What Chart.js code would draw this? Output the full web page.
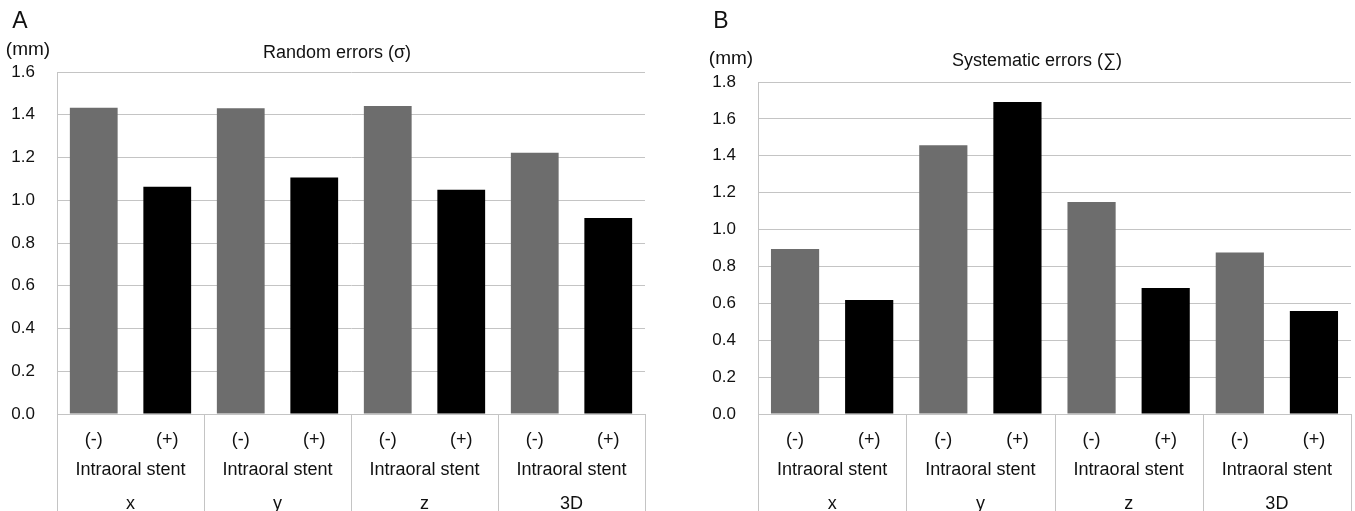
<!DOCTYPE html>
<html>
<head>
<meta charset="utf-8">
<script src="https://cdn.jsdelivr.net/npm/chart.js@4.4.1/dist/chart.umd.min.js"></script>
<style>
  html, body { margin: 0; padding: 0; background: #fff; }
  #wrapA { position: absolute; left: 0; top: 0; width: 677px; height: 511px; }
  #wrapB { position: absolute; left: 677px; top: 0; width: 678px; height: 511px; }
</style>
</head>
<body>
<div id="wrapA"><canvas id="chartA"></canvas></div>
<div id="wrapB"><canvas id="chartB"></canvas></div>
<script>
// data
const subLabels = ['(-)', '(+)', '(-)', '(+)', '(-)', '(+)', '(-)', '(+)'];
const groupLabels = ['x', 'y', 'z', '3D'];
const stentLabel = 'Intraoral stent';
const randomErrors = [1.433, 1.063, 1.430, 1.107, 1.441, 1.049, 1.222, 0.917];
const systematicErrors = [0.894, 0.618, 1.457, 1.692, 1.150, 0.683, 0.876, 0.559];
const randomMax = 1.6;
const systematicMax = 1.8;

const FONT = "'Liberation Sans', Arial, sans-serif";
const GRID = '#c4c4c4';
const barColors = subLabels.map(l => l === '(-)' ? '#6d6d6d' : '#000000');

// panel letter, unit and title text + group separators below the axis
const panelDecor = {
    id: 'panelDecor',
    afterDraw(chart, args, opts) {
        const ctx = chart.ctx;
        const area = chart.chartArea;
        const xs = chart.scales.x;
        ctx.save();
        // vertical lines between the groups, down to the bottom edge
        ctx.strokeStyle = GRID;
        ctx.lineWidth = 1;
        const edges = [area.left];
        for (let i = 1; i < subLabels.length / 2; i++) {
            edges.push((xs.getPixelForTick(i * 2 - 1) + xs.getPixelForTick(i * 2)) / 2);
        }
        edges.push(area.right);
        edges.forEach(x => {
            const px = Math.round(x) + 0.5;
            ctx.beginPath();
            ctx.moveTo(px, area.bottom);
            ctx.lineTo(px, chart.height);
            ctx.stroke();
        });
        ctx.fillStyle = '#111';
        ctx.textAlign = 'center';
        ctx.textBaseline = 'middle';
        ctx.font = '23px ' + FONT;
        ctx.fillText(opts.letter, opts.letterPos[0], opts.letterPos[1]);
        ctx.font = '19px ' + FONT;
        ctx.fillText('(mm)', opts.unitPos[0], opts.unitPos[1]);
        ctx.font = '18px ' + FONT;
        ctx.fillText(opts.title, opts.titlePos[0], opts.titlePos[1]);
        ctx.restore();
    }
};

function makeChart(id, values, yMax, yWidth, pad, decor) {
    const ctx = document.getElementById(id).getContext('2d');
    return new Chart(ctx, {
        type: 'bar',
        data: {
            labels: subLabels,
            datasets: [{
                data: values,
                backgroundColor: barColors,
                xAxisID: 'x',
                barPercentage: 0.65,
                categoryPercentage: 1.0
            }]
        },
        options: {
            responsive: true,
            maintainAspectRatio: false,
            animation: false,
            layout: { padding: pad },
            plugins: {
                legend: { display: false },
                tooltip: { enabled: false },
                panelDecor: decor
            },
            scales: {
                y: {
                    min: 0,
                    max: yMax,
                    afterFit: s => { s.width = yWidth; },
                    ticks: {
                        stepSize: 0.2,
                        padding: 22,
                        color: '#111',
                        font: { family: FONT, size: 17 },
                        callback: v => Number(v).toFixed(1)
                    },
                    grid: { color: GRID, drawTicks: false },
                    border: { display: true, color: GRID }
                },
                x: {
                    type: 'category',
                    weight: 0,
                    afterFit: s => { s.height = 44; },
                    ticks: {
                        padding: 15,
                        maxRotation: 0,
                        autoSkip: false,
                        color: '#111',
                        font: { family: FONT, size: 18 }
                    },
                    grid: { display: true, drawOnChartArea: false, drawTicks: false },
                    border: { display: true, color: GRID }
                },
                x2: {
                    type: 'category',
                    position: 'bottom',
                    weight: 1,
                    labels: groupLabels.map(g => [stentLabel, g]),
                    afterFit: s => { s.height = 53; },
                    ticks: {
                        padding: -13,
                        maxRotation: 0,
                        autoSkip: false,
                        color: '#111',
                        font: { family: FONT, size: 18, lineHeight: '34px' }
                    },
                    grid: { display: false },
                    border: { display: false }
                }
            }
        },
        plugins: [panelDecor]
    });
}

makeChart('chartA', randomErrors, randomMax, 57,
    { left: 0, right: 32, top: 72, bottom: 0 },
    { letter: 'A', letterPos: [20, 22], unitPos: [28, 50], title: 'Random errors (σ)', titlePos: [337, 53] });

makeChart('chartB', systematicErrors, systematicMax, 81,
    { left: 0, right: 4, top: 82, bottom: 0 },
    { letter: 'B', letterPos: [44, 22], unitPos: [54, 59], title: 'Systematic errors (∑)', titlePos: [360, 61] });
</script>
</body>
</html>
